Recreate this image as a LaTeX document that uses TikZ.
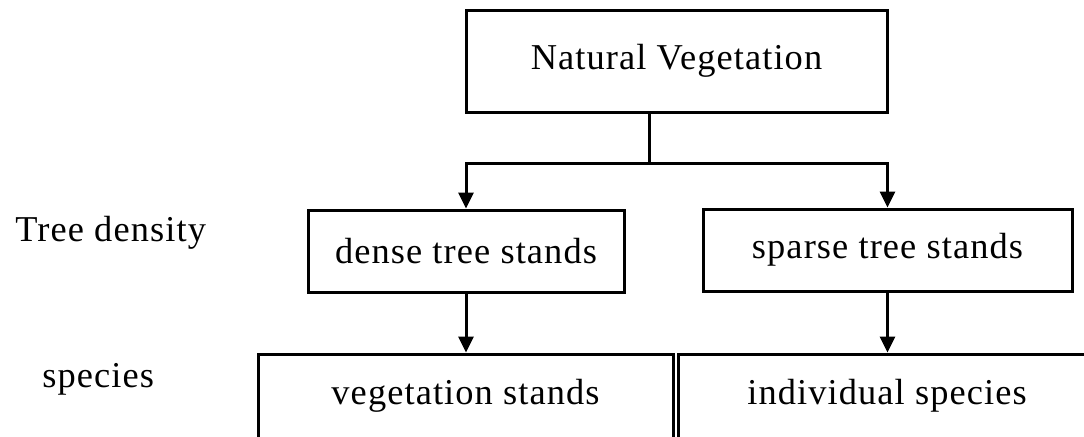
\documentclass[tikz,border=0pt]{standalone}
\usepackage{fontspec}
\setmainfont{Liberation Serif}[LetterSpace=3]
\usetikzlibrary{
  arrows.meta,
  positioning,
  calc
}
\tikzset{
  vgnode/.style={
    draw, line width=1.5pt, font=\fontsize{18.2}{22}\selectfont, align=center, inner sep=0pt
  },
  vgbox/.style={vgnode, minimum height=41pt},
  toplevel/.style={vgnode, minimum height=51pt},
  rowlabel/.style={font=\fontsize{18.2}{22}\selectfont, anchor=base west, inner sep=0pt},
  netline/.style={line width=1.5pt},
  flow/.style={-{Triangle[length=8pt, width=7.5pt]}, line width=1.5pt}
}

\begin{document}
\begin{tikzpicture}[x=0.5pt, y=-0.5pt]
  \useasboundingbox (0,0) rectangle (1084,436);
  % classification levels
  \node[toplevel, minimum width=210.5pt] (nat) at (676.5,61) {Natural Vegetation};
  \node[vgbox, minimum width=158pt] (dense) at (466,251) {dense tree stands};
  \node[vgbox, minimum width=184.5pt] (sparse) at (887.5,250) {sparse tree stands};
  \node[vgbox, minimum width=207.5pt, minimum height=42pt] (veg) at (465.5,396) {vegetation stands};
  \node[vgbox, minimum width=209pt, minimum height=42pt] (indiv) at (887,396) {individual species};
  % row labels
  \node[rowlabel] (density) at (15,241) {Tree density};
  \node[rowlabel] (species) at (42,387) {species};
  % connectors
  \coordinate (split) at (649,163);
  \draw[netline] (nat.south -| split) -- (split);
  \draw[flow] (split) -| (dense.north);
  \draw[flow] (split) -| (sparse.north);
  \draw[flow] (dense.south) -- (dense.south |- veg.north);
  \draw[flow] (sparse.south) -- (sparse.south |- indiv.north);
\end{tikzpicture}
\end{document}
